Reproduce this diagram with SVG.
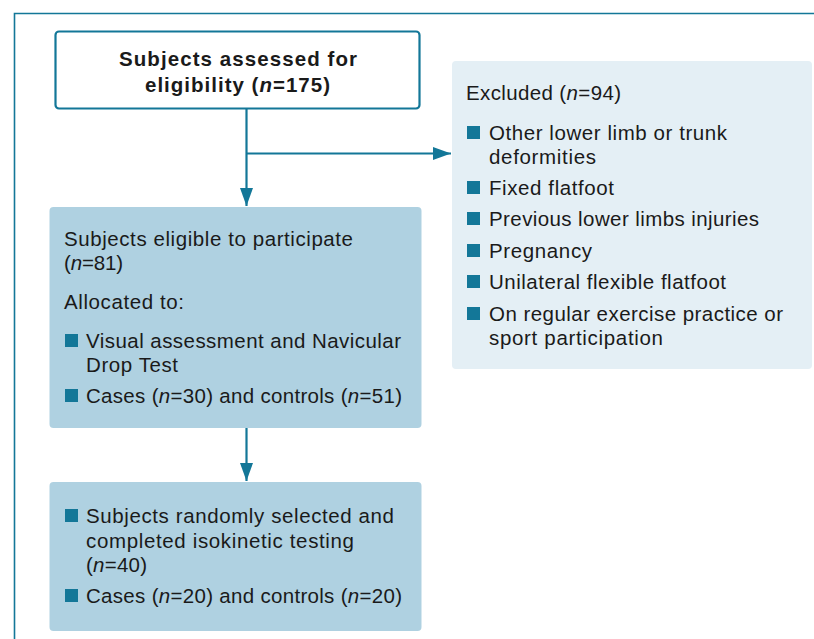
<svg xmlns="http://www.w3.org/2000/svg" width="814" height="639" viewBox="0 0 814 639">
<defs>
<style>
text{font-family:"Liberation Sans",Arial,Helvetica,sans-serif;font-size:20.5px;fill:#1a1a1a}
.b{font-weight:bold}
.teal{fill:#137798}
.dark{fill:#afd1e1}
.light{fill:#e4eff5}
.conn{stroke:#137798;stroke-width:2.2;fill:none}
</style>
<marker id="ah2" viewBox="0 0 18 13" refX="18" refY="6.5" markerWidth="18" markerHeight="13" markerUnits="userSpaceOnUse" orient="auto">
<path d="M0,0 L18,6.5 L0,13 z" fill="#137798"/>
</marker>
</defs>
<rect width="814" height="639" fill="#ffffff"/>
<path d="M14.5,639 L14.5,13.5 L814,13.5" fill="none" stroke="#137798" stroke-width="1.6"/>
<g id="connectors">
<path class="conn" d="M246.5,109 L246.5,206" marker-end="url(#ah2)"/>
<path class="conn" d="M246.5,153.5 L451,153.5" marker-end="url(#ah2)"/>
<path class="conn" d="M246.5,428 L246.5,481" marker-end="url(#ah2)"/>
</g>
<g id="node-assessed">
<rect x="55.5" y="31.5" width="364" height="77" rx="3.5" fill="#ffffff" stroke="#137798" stroke-width="2.2"/>
<text class="b" x="119" y="66" textLength="238" lengthAdjust="spacing">Subjects assessed for</text>
<text class="b" x="145" y="92" textLength="185" lengthAdjust="spacing">eligibility (<tspan font-style="italic">n</tspan>=175)</text>
</g>
<g id="node-excluded">
<rect class="light" x="452" y="61" width="360" height="308" rx="4"/>
<text x="466" y="100" textLength="155" lengthAdjust="spacing">Excluded (<tspan font-style="italic">n</tspan>=94)</text>
<rect class="teal" x="467" y="126" width="13" height="13"/>
<text x="489" y="140" textLength="238" lengthAdjust="spacing">Other lower limb or trunk</text>
<text x="489" y="164" textLength="107" lengthAdjust="spacing">deformities</text>
<rect class="teal" x="467" y="181" width="13" height="13"/>
<text x="489" y="195" textLength="125" lengthAdjust="spacing">Fixed flatfoot</text>
<rect class="teal" x="467" y="212" width="13" height="13"/>
<text x="489" y="226" textLength="270" lengthAdjust="spacing">Previous lower limbs injuries</text>
<rect class="teal" x="467" y="244" width="13" height="13"/>
<text x="489" y="258" textLength="103" lengthAdjust="spacing">Pregnancy</text>
<rect class="teal" x="467" y="275" width="13" height="13"/>
<text x="489" y="289" textLength="237" lengthAdjust="spacing">Unilateral flexible flatfoot</text>
<rect class="teal" x="467" y="307" width="13" height="13"/>
<text x="489" y="321" textLength="294" lengthAdjust="spacing">On regular exercise practice or</text>
<text x="489" y="345" textLength="174" lengthAdjust="spacing">sport participation</text>
</g>
<g id="node-eligible">
<rect class="dark" x="49.5" y="207" width="372" height="221" rx="4"/>
<text x="64" y="246" textLength="289" lengthAdjust="spacing">Subjects eligible to participate</text>
<text x="64" y="270" textLength="59" lengthAdjust="spacing">(<tspan font-style="italic">n</tspan>=81)</text>
<text x="64" y="309" textLength="120" lengthAdjust="spacing">Allocated to:</text>
<rect class="teal" x="65" y="334" width="13" height="13"/>
<text x="86" y="348" textLength="315" lengthAdjust="spacing">Visual assessment and Navicular</text>
<text x="86" y="372" textLength="92" lengthAdjust="spacing">Drop Test</text>
<rect class="teal" x="65" y="389" width="13" height="13"/>
<text x="86" y="403" textLength="316" lengthAdjust="spacing">Cases (<tspan font-style="italic">n</tspan>=30) and controls (<tspan font-style="italic">n</tspan>=51)</text>
</g>
<g id="node-selected">
<rect class="dark" x="49.5" y="482" width="372" height="149" rx="4"/>
<rect class="teal" x="65" y="509" width="13" height="13"/>
<text x="86" y="523" textLength="308" lengthAdjust="spacing">Subjects randomly selected and</text>
<text x="86" y="548" textLength="268" lengthAdjust="spacing">completed isokinetic testing</text>
<text x="86" y="572" textLength="61" lengthAdjust="spacing">(<tspan font-style="italic">n</tspan>=40)</text>
<rect class="teal" x="65" y="589" width="13" height="13"/>
<text x="86" y="603" textLength="316" lengthAdjust="spacing">Cases (<tspan font-style="italic">n</tspan>=20) and controls (<tspan font-style="italic">n</tspan>=20)</text>
</g>
</svg>
